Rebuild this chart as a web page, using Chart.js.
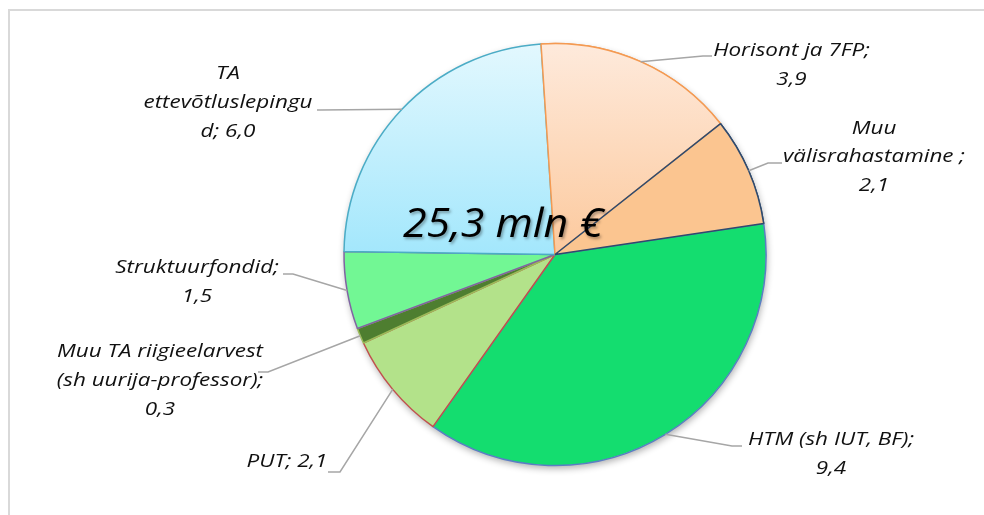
<!DOCTYPE html>
<html>
<head>
<meta charset="utf-8">
<script src="https://cdn.jsdelivr.net/npm/chart.js@4/dist/chart.umd.min.js"></script>
<style>
  html, body { margin: 0; padding: 0; background: #fff; }
  #wrap { width: 984px; height: 515px; position: relative; overflow: hidden; }
  canvas { display: block; }
</style>
</head>
<body>
<div id="wrap"><canvas id="chart" width="984" height="515"></canvas></div>
<script>
// Funding sources, million euros
const categories = [
  'Horisont ja 7FP',
  'Muu välisrahastamine ',
  'HTM (sh IUT, BF)',
  'PUT',
  'Muu TA riigieelarvest (sh uurija-professor)',
  'Struktuurfondid',
  'TA ettevõtluslepingud'
];
const values = [3.9, 2.1, 9.4, 2.1, 0.3, 1.5, 6.0];

// Where each "name; value" label wraps onto a new line (character positions)
const labelBreaks = [[16], [3, 22], [17], [], [21, 44], [16], [2, 20]];

const fillColors   = ['#fdd9bb', '#fbc590', '#14dd6f', '#b3e28a', '#4e7e30', '#72f794', '#bdeffd'];
const borderColors = ['#f49a52', '#2f4a6d', '#5a7ec4', '#c0504d', '#9bbb59', '#8064a2', '#4bacc6'];
const gradientStops = { 0: ['#feeadc', '#fcc99d'], 6: ['#e3f8fe', '#a3e7fc'] };

const fmt = v => v.toFixed(1).replace('.', ',');
const total = values.reduce((a, b) => a + b, 0);
const totalText = fmt(total) + ' mln €';

function splitAt(str, breaks) {
  const out = [];
  let prev = 0;
  for (const b of breaks) { out.push(str.slice(prev, b).trim()); prev = b; }
  out.push(str.slice(prev).trim());
  return out;
}
const labelLines = categories.map((c, i) => splitAt(c + '; ' + fmt(values[i]), labelBreaks[i]));

// Label block placement and leader-line elbows, relative to the pie centre
const labelLayout = [
  { x:  236.5, y: -203.5, elbow: [ 148, -198.5], end: [ 157, -198.5] },
  { x:  319,   y: -126,   elbow: [ 213,  -91.5], end: [ 227,  -91.5] },
  { x:  276,   y:  185.5, elbow: [ 177,  191.5], end: [ 187,  191.5] },
  { x: -268,   y:  207.5, elbow: [-215,  217.5], end: [-227,  217.5] },
  { x: -395,   y:   97.5, elbow: [-287,  117.5], end: [-297,  117.5] },
  { x: -358,   y:   13.5, elbow: [-262,   19.5], end: [-272,   19.5] },
  { x: -327,   y: -180.5, elbow: [-235, -144.5], end: [-238, -144.5] }
];

function sliceFill(context) {
  const i = context.dataIndex;
  const chart = context.chart;
  const area = chart.chartArea;
  if (!area || !gradientStops[i]) return fillColors[i];
  const top = area.top;
  const mid = (area.top + area.bottom) / 2;
  const g = chart.ctx.createLinearGradient(0, top, 0, mid);
  g.addColorStop(0, gradientStops[i][0]);
  g.addColorStop(1, gradientStops[i][1]);
  return g;
}

const frame = {
  id: 'frame',
  beforeDraw(chart) {
    const c = chart.ctx;
    c.save();
    c.strokeStyle = '#d9d9d9';
    c.lineWidth = 2;
    c.beginPath();
    c.moveTo(9, 600);
    c.lineTo(9, 10);
    c.lineTo(1000, 10);
    c.stroke();
    c.restore();
  }
};

const pieShadow = {
  id: 'pieShadow',
  beforeDatasetsDraw(chart) {
    const arc = chart.getDatasetMeta(0).data[0];
    if (!arc) return;
    const c = chart.ctx;
    c.save();
    c.shadowColor = 'rgba(0,0,0,0.32)';
    c.shadowBlur = 7;
    c.shadowOffsetX = 1;
    c.shadowOffsetY = 3;
    c.fillStyle = '#ffffff';
    c.beginPath();
    c.arc(arc.x, arc.y, arc.outerRadius, 0, Math.PI * 2);
    c.fill();
    c.restore();
  },
  afterDatasetsDraw(chart) {
    // the first two slices' outlines sit over their neighbours' edges
    const arcs = chart.getDatasetMeta(0).data;
    if (arcs[0]) arcs[0].draw(chart.ctx, chart.chartArea);
    if (arcs[1]) arcs[1].draw(chart.ctx, chart.chartArea);
  }
};

function drawScaled(c, text, x, y, sx) {
  c.save();
  c.translate(x, y);
  c.scale(sx, 1);
  c.fillText(text, 0, 0);
  c.restore();
}

const sliceLabels = {
  id: 'sliceLabels',
  afterDatasetsDraw(chart, args, opts) {
    const c = chart.ctx;
    const arcs = chart.getDatasetMeta(0).data;
    if (!arcs.length) return;
    const cx = arcs[0].x, cy = arcs[0].y;
    c.save();
    c.strokeStyle = opts.lineColor;
    c.lineWidth = 1.5;
    arcs.forEach((arc, i) => {
      const L = opts.layout[i];
      const mid = (arc.startAngle + arc.endAngle) / 2;
      const r = arc.outerRadius;
      c.beginPath();
      c.moveTo(cx + Math.cos(mid) * r, cy + Math.sin(mid) * r);
      c.lineTo(cx + L.elbow[0], cy + L.elbow[1]);
      c.lineTo(cx + L.end[0], cy + L.end[1]);
      c.stroke();
    });
    c.font = `italic ${opts.fontSize}px ${opts.fontFamily}`;
    c.fillStyle = opts.color;
    c.textAlign = 'center';
    c.textBaseline = 'middle';
    const sx = opts.refWidth / c.measureText(opts.refText).width;
    arcs.forEach((arc, i) => {
      const L = opts.layout[i];
      opts.lines[i].forEach((line, k) => {
        drawScaled(c, line, cx + L.x, cy + L.y + k * opts.lineHeight, sx);
      });
    });

    // total in the middle of the pie
    const T = opts.total;
    c.font = `italic ${T.fontSize}px ${opts.fontFamily}`;
    c.fillStyle = '#000000';
    c.textBaseline = 'alphabetic';
    c.shadowColor = 'rgba(0,0,0,0.35)';
    c.shadowBlur = 3;
    c.shadowOffsetX = 1.5;
    c.shadowOffsetY = 1.5;
    const tsx = T.width / c.measureText(T.text).width;
    drawScaled(c, T.text, cx + T.dx, cy + T.dy, tsx);
    c.restore();
  }
};

new Chart(document.getElementById('chart'), {
  type: 'pie',
  data: {
    labels: categories,
    datasets: [{
      data: values,
      backgroundColor: sliceFill,
      borderColor: borderColors,
      borderWidth: 1.5,
      hoverBorderWidth: 1.5,
      offset: 0,
      hoverOffset: 0
    }]
  },
  options: {
    responsive: false,
    animation: false,
    rotation: -3.8,
    layout: { padding: { left: 343.25, right: 217.25, top: 42.75, bottom: 48.75 } },
    events: [],
    plugins: {
      legend: { display: false },
      tooltip: { enabled: false },
      sliceLabels: {
        lines: labelLines,
        layout: labelLayout,
        lineColor: '#a6a6a6',
        color: '#111111',
        fontFamily: '"Open Sans", "Noto Sans", sans-serif',
        fontSize: 18,
        lineHeight: 28.8,
        refText: 'ettevõtluslepingu',
        refWidth: 169,
        total: { text: totalText, dx: -52, dy: -17.5, fontSize: 40, width: 200 }
      }
    }
  },
  plugins: [frame, pieShadow, sliceLabels]
});
</script>
</body>
</html>
